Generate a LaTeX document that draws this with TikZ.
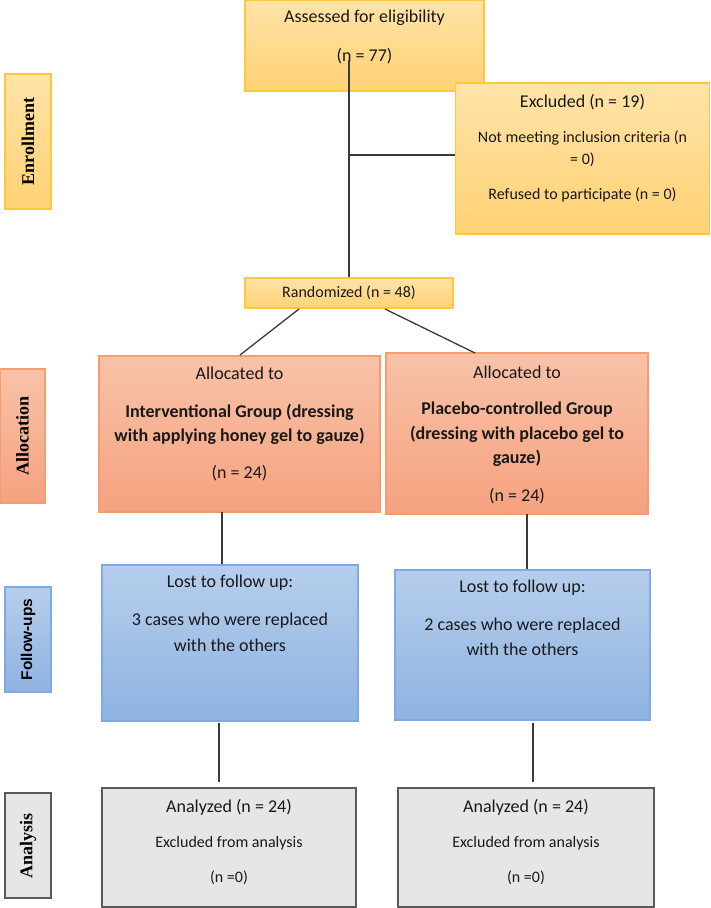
\documentclass[tikz,border=0pt]{standalone}
\usepackage{fontspec}
\setmainfont{Carlito}
\newfontfamily\tnr{Liberation Serif}
\newfontfamily\arl{Liberation Sans}
\definecolor{yt}{HTML}{FFE3A8}
\definecolor{yb}{HTML}{FFD274}
\definecolor{yd}{HTML}{FFC83A}
\definecolor{ot}{HTML}{F8C2A8}
\definecolor{ob}{HTML}{F5A27F}
\definecolor{od}{HTML}{F59C70}
\definecolor{bt}{HTML}{B6CEEC}
\definecolor{bb}{HTML}{8FB3E1}
\definecolor{bd}{HTML}{7DAAE4}
\definecolor{gf}{HTML}{E6E6E6}
\definecolor{gd}{HTML}{5A5A5A}
\definecolor{ln}{HTML}{3A3A3A}
\begin{document}
\begin{tikzpicture}[x=1pt,y=-1pt,
  box/.style={rectangle,inner sep=0pt,line width=1.2pt},
  ybox/.style={box,draw=yd,top color=yt,bottom color=yb},
  obox/.style={box,draw=od,top color=ot,bottom color=ob},
  bbox/.style={box,draw=bd,top color=bt,bottom color=bb},
  gbox/.style={box,draw=gd,fill=gf},
  txt/.style={inner sep=0pt,font=\fontsize{18}{22}\selectfont,text=black!90},
  stxt/.style={inner sep=0pt,font=\fontsize{16}{20}\selectfont,text=black!90},
  btxt/.style={inner sep=0pt,font=\fontsize{18}{22}\selectfont\bfseries,text=black!90},
  lab/.style={inner sep=0pt,rotate=90,font=\fontsize{18}{22}\selectfont\tnr\bfseries},
  conn/.style={draw=ln,line width=1.3pt}
]
\useasboundingbox (0,0) rectangle (710,908);

% side labels
\node[ybox,minimum width=46,minimum height=135] (enrB) at (28,141.5) {};
\node[lab] (enrT) at (enrB.center) {Enrollment};
\node[obox,minimum width=45,minimum height=134] (allB) at (22.5,436) {};
\node[lab] (allT) at (allB.center) {Allocation};
\node[bbox,minimum width=46,minimum height=105] (folB) at (28,639.5) {};
\node[inner sep=0pt,rotate=90,font=\fontsize{15.5}{18}\selectfont\arl\bfseries] (folT) at (folB.center) {Follow-ups};
\node[gbox,minimum width=46,minimum height=105] (anaB) at (28,845.5) {};
\node[lab] (anaT) at (anaB.center) {Analysis};

% enrollment
\node[ybox,minimum width=239,minimum height=91] (ass) at (364.5,45.5) {};
\node[txt] (assT1) at (364.5,18) {Assessed for eligibility};
\node[txt] (assT2) at (364.5,56) {(n = 77)};

\node[ybox,minimum width=254,minimum height=151] (exc) at (582.5,158.5) {};
\node[txt] (excT1) at (582.5,102) {Excluded (n = 19)};
\node[stxt] (excT2) at (582.5,138) {Not meeting inclusion criteria (n};
\node[stxt] (excT3) at (582.5,160) {= 0)};
\node[stxt] (excT4) at (582.5,195) {Refused to participate (n = 0)};

\node[ybox,minimum width=208,minimum height=30] (rand) at (349,293) {};
\node[stxt] (randT) at (349,293) {Randomized (n = 48)};

% allocation
\node[obox,minimum width=281,minimum height=156] (alL) at (239.5,434) {};
\node[txt] (alLT1) at (239.5,373) {Allocated to};
\node[btxt] (alLT2) at (239.5,412) {Interventional Group (dressing};
\node[btxt] (alLT3) at (239.5,436) {with applying honey gel to gauze)};
\node[txt] (alLT4) at (239.5,473) {(n = 24)};

\node[obox,minimum width=262,minimum height=161] (alR) at (517,433.5) {};
\node[txt] (alRT1) at (517,372) {Allocated to};
\node[btxt] (alRT2) at (517,410) {Placebo-controlled Group};
\node[btxt] (alRT3) at (517,434) {(dressing with placebo gel to};
\node[btxt] (alRT4) at (517,458) {gauze)};
\node[txt] (alRT5) at (517,496) {(n = 24)};

% follow-ups
\node[bbox,minimum width=256,minimum height=156] (fuL) at (230,643) {};
\node[txt] (fuLT1) at (230,583) {Lost to follow up:};
\node[txt] (fuLT2) at (230,621) {3 cases who were replaced};
\node[txt] (fuLT3) at (230,645) {with the others};

\node[bbox,minimum width=255,minimum height=150] (fuR) at (522.5,645) {};
\node[txt] (fuRT1) at (522.5,588) {Lost to follow up:};
\node[txt] (fuRT2) at (522.5,626) {2 cases who were replaced};
\node[txt] (fuRT3) at (522.5,649) {with the others};

% analysis
\node[gbox,minimum width=254,minimum height=119] (anL) at (229,847.5) {};
\node[txt] (anLT1) at (229,807) {Analyzed (n = 24)};
\node[stxt] (anLT2) at (229,843) {Excluded from analysis};
\node[stxt] (anLT3) at (229,878) {(n =0)};

\node[gbox,minimum width=256,minimum height=119] (anR) at (526,847.5) {};
\node[txt] (anRT1) at (526,807) {Analyzed (n = 24)};
\node[stxt] (anRT2) at (526,843) {Excluded from analysis};
\node[stxt] (anRT3) at (526,878) {(n =0)};

% connectors
\coordinate (c1) at (349,60);
\coordinate (c2) at (349,155);
\draw[conn,line width=1.6pt] (c1) -- (rand.north -| c1);
\draw[conn,line width=1.6pt] (c2) -- (exc.west |- c2);
\coordinate (r1) at (299,309);
\coordinate (r2) at (385,309);
\coordinate (l1) at (240,355);
\coordinate (l2) at (475,353);
\draw[conn] (r1) -- (l1);
\draw[conn] (r2) -- (l2);
\coordinate (d1) at (222,512);
\coordinate (d2) at (527,514);
\draw[conn] (d1) -- (fuL.north -| d1);
\draw[conn] (d2) -- (fuR.north -| d2);
\coordinate (e1) at (219,723);
\coordinate (e2) at (533,723);
\coordinate (f1) at (219,782);
\coordinate (f2) at (533,782);
\draw[conn] (e1) -- (f1);
\draw[conn] (e2) -- (f2);
\end{tikzpicture}
\end{document}
